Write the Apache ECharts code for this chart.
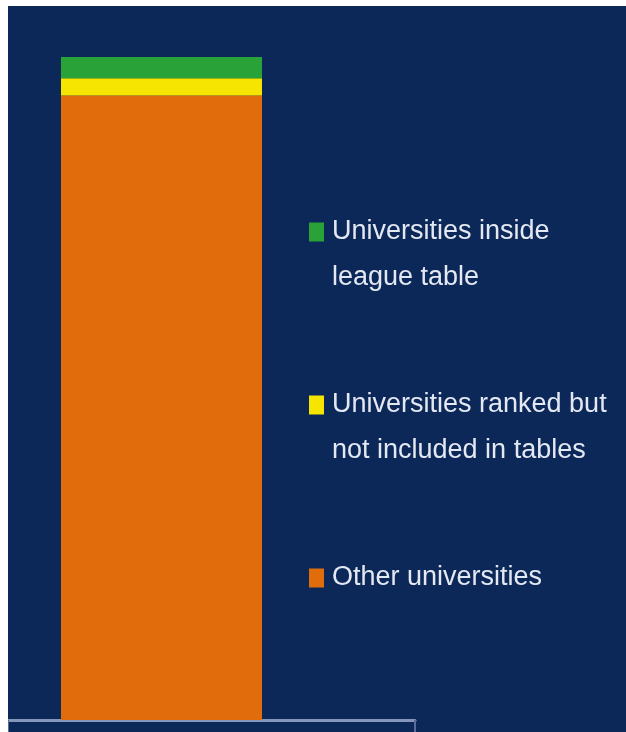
<!DOCTYPE html>
<html>
<head>
<meta charset="utf-8">
<script src="https://cdn.jsdelivr.net/npm/echarts@6/dist/echarts.min.js"></script>
<style>
  html, body { margin: 0; padding: 0; background: #ffffff; }
  #chart { position: absolute; left: 8px; top: 6px; width: 618px; height: 726px; background: #0b2859; }
</style>
</head>
<body>
<div id="chart"></div>
<script>
// Data
const categories = [''];
const seriesNames = ['Other universities', 'Universities ranked but not included in tables', 'Universities inside league table'];
const otherUniversities = [94.2];
const rankedNotIncluded = [2.6];
const insideLeagueTable = [3.2];
const legendOrder = ['Universities inside league table', 'Universities ranked but not included in tables', 'Other universities'];
const legendLines = {
  'Universities inside league table': ['Universities inside', 'league table'],
  'Universities ranked but not included in tables': ['Universities ranked but', 'not included in tables'],
  'Other universities': ['Other universities']
};

const colors = { other: '#e06c0c', ranked: '#f6e500', inside: '#29a337' };
const LH = 46;
const BLANK = '\u00a0';

function legendText(name) {
  const lines = legendLines[name];
  // keep the first line on the icon: pad with a blank line above (and below for one-line items)
  if (lines.length > 1) return [BLANK].concat(lines).join('\n');
  return [BLANK, lines[0], BLANK].join('\n');
}

const chart = echarts.init(document.getElementById('chart'));
chart.setOption({
  backgroundColor: '#0b2859',
  animation: false,
  grid: [
    { left: 53, right: 364, top: 51, bottom: 12 },
    { left: 0, right: 211, top: 51, bottom: 12 }
  ],
  legend: {
    orient: 'vertical',
    left: 301,
    top: 157,
    padding: 0,
    itemGap: 173 - 3 * LH,
    itemWidth: 15,
    itemHeight: 19,
    icon: 'rect',
    selectedMode: false,
    data: legendOrder,
    formatter: legendText,
    textStyle: {
      color: '#e4e8f2',
      fontFamily: '"Liberation Sans", Arial, sans-serif',
      fontSize: 27,
      lineHeight: LH,
      padding: [0, 0, 0, 3]
    }
  },
  xAxis: [
    {
      type: 'category',
      gridIndex: 0,
      data: categories,
      show: false
    },
    {
      type: 'category',
      gridIndex: 1,
      data: categories,
      axisLine: { lineStyle: { color: '#8596bb', width: 3 } },
      axisTick: { show: true, length: 12, lineStyle: { color: '#5a6d98', width: 2 } },
      axisLabel: { show: false }
    }
  ],
  yAxis: [
    { type: 'value', gridIndex: 0, min: 0, max: 100, show: false },
    { type: 'value', gridIndex: 1, min: 0, max: 100, show: false }
  ],
  series: [
    { name: seriesNames[0], type: 'bar', stack: 'total', data: otherUniversities, barWidth: '100%', itemStyle: { color: colors.other } },
    { name: seriesNames[1], type: 'bar', stack: 'total', data: rankedNotIncluded, barWidth: '100%', itemStyle: { color: colors.ranked } },
    { name: seriesNames[2], type: 'bar', stack: 'total', data: insideLeagueTable, barWidth: '100%', itemStyle: { color: colors.inside } }
  ]
});
</script>
</body>
</html>
